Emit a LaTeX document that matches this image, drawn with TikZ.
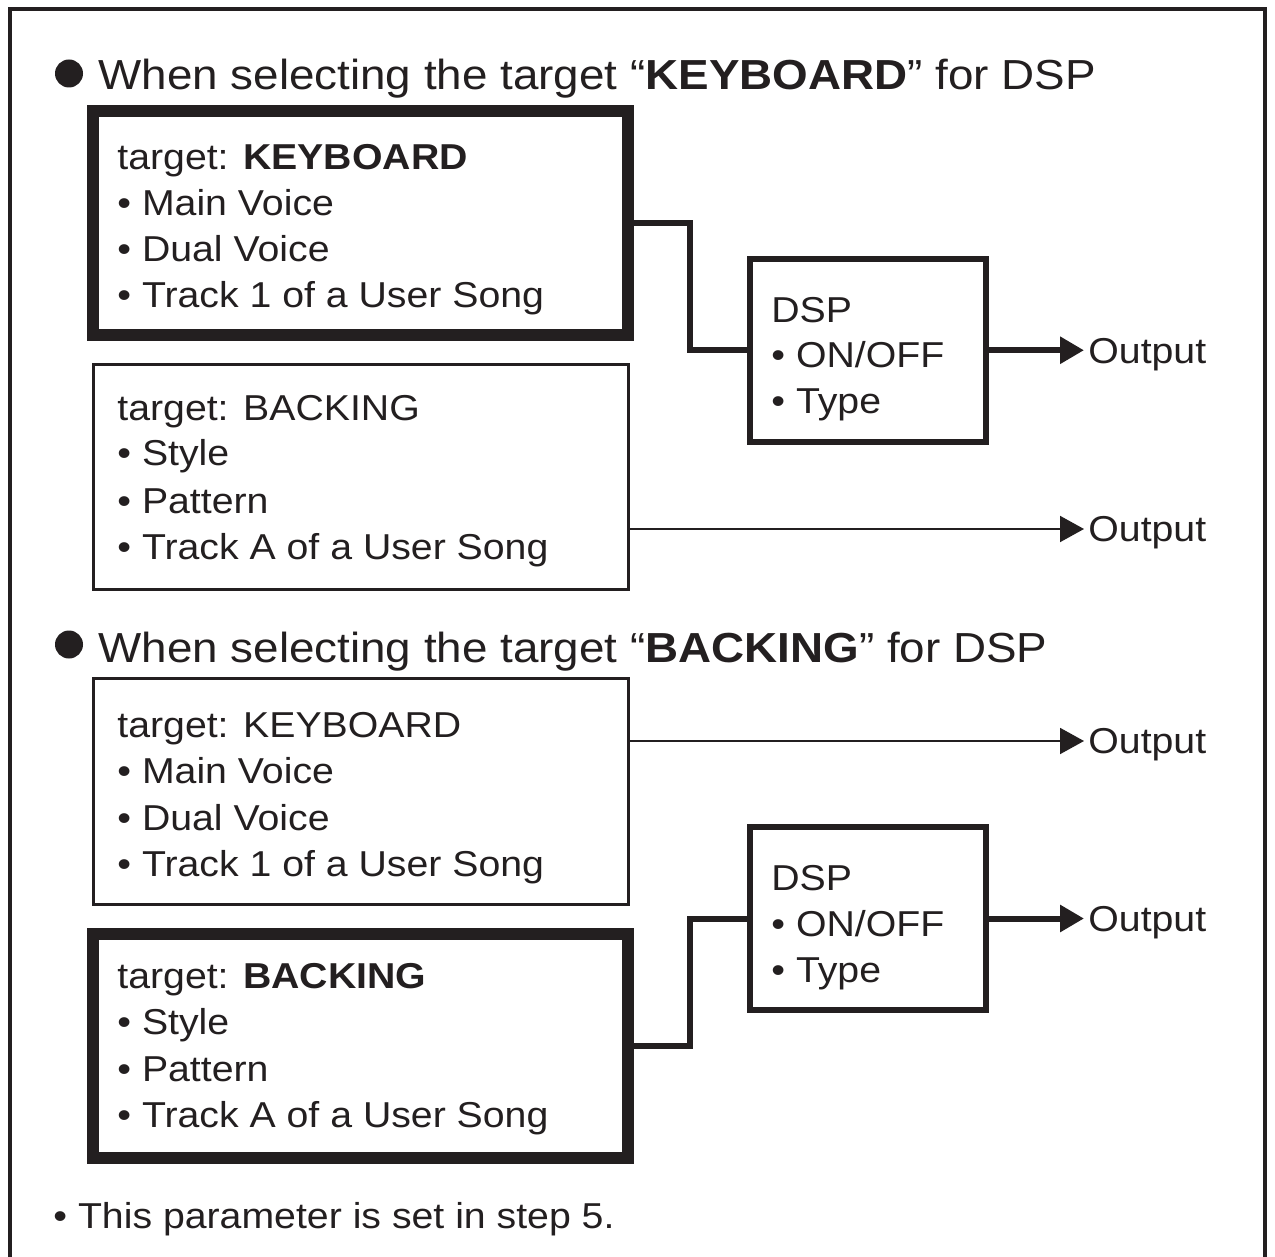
\documentclass[tikz,border=0pt]{standalone}
\usepackage{fontspec}
\setmainfont{Liberation Sans}[FakeStretch=1.09]
\usetikzlibrary{arrows.meta}
\definecolor{ink}{RGB}{35,31,32}
\tikzset{
  boxtext/.style={anchor=base west, inner sep=0pt, font=\fontsize{18}{21}\selectfont, text=ink},
  headtext/.style={anchor=base west, inner sep=0pt, font=\fontsize{21}{25}\selectfont, text=ink},
  headdot/.style={circle, fill=ink, minimum size=14pt, inner sep=0pt},
  heavybox/.style={draw=ink, line width=6pt, minimum width=267.5pt, inner sep=0pt, outer sep=0pt},
  lightbox/.style={draw=ink, line width=1.5pt, minimum width=267.5pt, inner sep=0pt, outer sep=0pt},
  dspbox/.style={draw=ink, line width=3pt, minimum width=118pt, inner sep=0pt, outer sep=0pt},
  outlabel/.style={anchor=west, inner xsep=2pt, inner ysep=0pt, text height=12.9pt, text depth=0pt,
                   font=\fontsize{18}{21}\selectfont, text=ink},
  link/.style={draw=ink, line width=3pt},
  thickarrow/.style={draw=ink, line width=3pt, -{Triangle[length=12pt,width=13pt]}},
  thinarrow/.style={draw=ink, line width=1pt, -{Triangle[length=12pt,width=13pt]}},
  frameline/.style={draw=ink, line width=2pt}
}
\begin{document}
\begin{tikzpicture}[x=0.5pt,y=-0.5pt]
\useasboundingbox (0,0) rectangle (1275,1257);
\fill[white] (0,0) rectangle (1275,1257);
\draw[frameline] (10,1257) -- (10,9) -- (1265,9) -- (1265,1257);

% ---------- top section ----------
\node[headdot] (d1) at (69,73.5) {};
\node[headtext] (h1) at (98,90) {When selecting the target “\textbf{KEYBOARD}” for DSP};

\node[heavybox, minimum height=112pt] (k1) at (360.5,223.5) {};
\node[boxtext] (k1a) at (117,170) {target: \textbf{KEYBOARD}};
\node[boxtext] (k1b) at (117,216) {• Main Voice};
\node[boxtext] (k1c) at (117,262) {• Dual Voice};
\node[boxtext] (k1d) at (117,308) {• Track 1 of a User Song};

\node[lightbox, minimum height=112pt] (b2) at (360.5,477) {};
\node[boxtext] (b2a) at (117,420) {target: BACKING};
\node[boxtext] (b2b) at (117,466) {• Style};
\node[boxtext] (b2c) at (117,513) {• Pattern};
\node[boxtext] (b2d) at (117,559) {• Track A of a User Song};

\node[dspbox, minimum height=91.25pt] (dsp1) at (868,350.25) {};
\node[boxtext] (dsp1a) at (771,322) {DSP};
\node[boxtext] (dsp1b) at (771,368) {• ON/OFF};
\node[boxtext] (dsp1c) at (771,414) {• Type};

\node[outlabel] (o1) at (1084,350.25) {Output};
\node[outlabel] (o2) at (1084,529) {Output};

\draw[link] (k1.east) -- ++(62,0) |- (dsp1.west);
\draw[thickarrow] (dsp1.east) -- (o1.west);
\draw[thinarrow] (b2.east |- o2.west) -- (o2.west);

% ---------- bottom section ----------
\node[headdot] (d2) at (69,644.5) {};
\node[headtext] (h2) at (98,662) {When selecting the target “\textbf{BACKING}” for DSP};

\node[lightbox, minimum height=113pt] (k3) at (360.5,791.5) {};
\node[boxtext] (k3a) at (117,737) {target: KEYBOARD};
\node[boxtext] (k3b) at (117,783) {• Main Voice};
\node[boxtext] (k3c) at (117,830) {• Dual Voice};
\node[boxtext] (k3d) at (117,876) {• Track 1 of a User Song};

\node[heavybox, minimum height=112.25pt] (b4) at (360.5,1045.75) {};
\node[boxtext] (b4a) at (117,988) {target: \textbf{BACKING}};
\node[boxtext] (b4b) at (117,1034) {• Style};
\node[boxtext] (b4c) at (117,1081) {• Pattern};
\node[boxtext] (b4d) at (117,1127) {• Track A of a User Song};

\node[dspbox, minimum height=91.5pt] (dsp2) at (868,918.5) {};
\node[boxtext] (dsp2a) at (771,890) {DSP};
\node[boxtext] (dsp2b) at (771,936) {• ON/OFF};
\node[boxtext] (dsp2c) at (771,982) {• Type};

\node[outlabel] (o3) at (1084,741) {Output};
\node[outlabel] (o4) at (1084,918.5) {Output};

\draw[thinarrow] (k3.east |- o3.west) -- (o3.west);
\draw[link] (b4.east) -- ++(62,0) |- (dsp2.west);
\draw[thickarrow] (dsp2.east) -- (o4.west);

\node[boxtext] (note) at (53,1228) {• This parameter is set in step 5.};
\end{tikzpicture}
\end{document}
